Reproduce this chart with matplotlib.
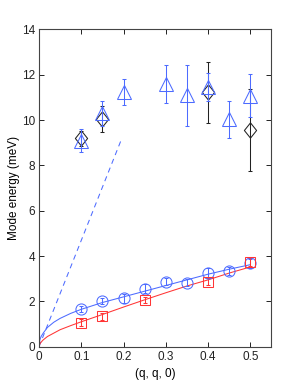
import matplotlib
matplotlib.use("Agg")
import matplotlib.pyplot as plt

plt.rcParams['font.family'] = ['Liberation Sans', 'DejaVu Sans']

blue = '#4d6bff'
red = '#ff3535'
black = '#222222'

# high energy modes (triangles, blue)
q_tri = [0.1, 0.15, 0.2, 0.3, 0.35, 0.4, 0.45, 0.5]
E_tri = [9.1, 10.3, 11.24, 11.58, 11.1, 11.45, 10.03, 11.08]
err_tri = [0.5, 0.55, 0.56, 0.84, 1.35, 0.62, 0.83, 0.95]

# high energy modes (diamonds, black)
q_dia = [0.1, 0.15, 0.4, 0.5]
E_dia = [9.2, 10.05, 11.22, 9.56]
err_dia = [0.33, 0.57, 1.33, 1.8]

# low energy modes (circles, blue)
q_circ = [0.1, 0.15, 0.2, 0.25, 0.3, 0.35, 0.4, 0.45, 0.5]
E_circ = [1.66, 2.02, 2.13, 2.55, 2.87, 2.83, 3.24, 3.34, 3.68]
err_circ = [0.15, 0.15, 0.18, 0.2, 0.15, 0.15, 0.22, 0.18, 0.2]

# low energy modes (squares, red)
q_sq = [0.1, 0.15, 0.25, 0.4, 0.5]
E_sq = [1.06, 1.35, 2.06, 2.87, 3.72]
err_sq = [0.15, 0.15, 0.12, 0.15, 0.18]

# fitted curves
q_fit = [0, 0.002, 0.005, 0.01, 0.02, 0.035, 0.05, 0.075, 0.1, 0.15, 0.2, 0.25, 0.3, 0.35, 0.4, 0.45, 0.5]
E_fit_blue = [0, 0.3, 0.45, 0.6, 0.85, 1.08, 1.25, 1.47, 1.65, 1.95, 2.2, 2.45, 2.7, 2.95, 3.2, 3.42, 3.62]
E_fit_red = [0, 0.12, 0.2, 0.3, 0.45, 0.6, 0.75, 0.93, 1.1, 1.42, 1.75, 2.07, 2.38, 2.68, 2.95, 3.25, 3.52]

# dashed linear dispersion
q_lin = [0, 0.195]
E_lin = [0, 9.15]

fig = plt.figure(figsize=(2.99, 3.91), dpi=100)
ax = fig.add_axes([0.1304, 0.1133, 0.7776, 0.8113])

lw = 0.75
diamond = [(0, 1), (0.8, 0), (0, -1), (-0.8, 0), (0, 1)]

ax.plot(q_lin, E_lin, '--', color=blue, lw=lw, dashes=(5, 4))
ax.plot(q_fit, E_fit_blue, '-', color=blue, lw=lw)
ax.plot(q_fit, E_fit_red, '-', color=red, lw=lw)

ax.errorbar(q_dia, E_dia, yerr=err_dia, fmt='none', ecolor=black,
            elinewidth=lw, capsize=1.5, capthick=lw)
ax.plot(q_dia, E_dia, linestyle='none', marker=diamond, color=black, mfc='none',
        ms=11, mew=lw)
ax.errorbar(q_tri, E_tri, yerr=err_tri, fmt='^', color=blue, mfc='none', ms=10,
            mew=lw, elinewidth=lw, capsize=1.5, capthick=lw)
ax.errorbar(q_circ, E_circ, yerr=err_circ, fmt='o', color=blue, mfc='none', ms=8,
            mew=lw, elinewidth=lw, capsize=1.5, capthick=lw)
ax.errorbar(q_sq, E_sq, yerr=err_sq, fmt='s', color=red, mfc='none', ms=6.5,
            mew=lw, elinewidth=lw, capsize=1.5, capthick=lw)

ax.set_xlim(0, 0.55)
ax.set_ylim(0, 14)
ax.set_xticks([0, 0.1, 0.2, 0.3, 0.4, 0.5])
ax.set_xticklabels(['0', '0.1', '0.2', '0.3', '0.4', '0.5'])
ax.set_yticks([0, 2, 4, 6, 8, 10, 12, 14])
ax.tick_params(direction='in', top=True, right=True, length=3.5, width=0.7,
               labelsize=8.5, colors='#222222', pad=3)
for s in ax.spines.values():
    s.set_color('#444444')
    s.set_linewidth(0.8)

ax.set_xlabel('(q, q, 0)', fontsize=8.5, labelpad=4)
ax.set_ylabel('Mode energy (meV)', fontsize=8.5, labelpad=1)

fig.savefig('out.png', dpi=100)
